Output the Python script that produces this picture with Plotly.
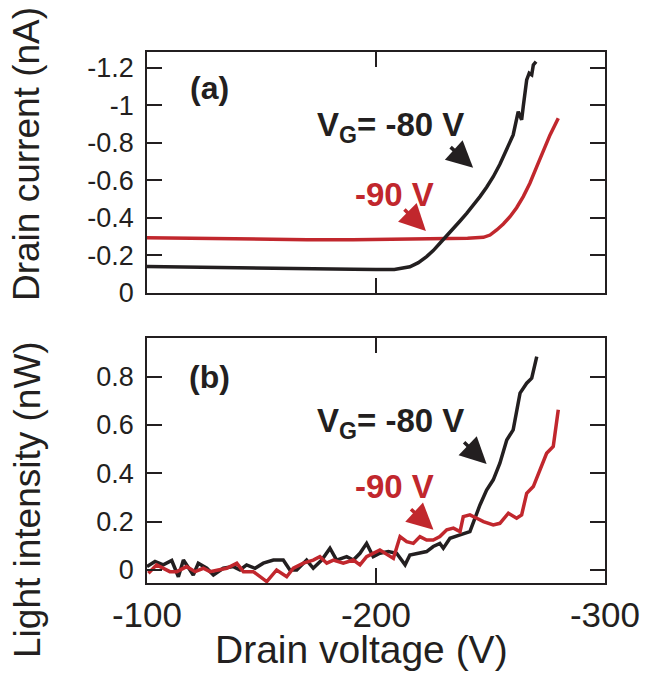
import plotly.graph_objects as go

# ---------------- data ----------------
# (a) Drain current vs drain voltage
v_cur_80 = [-100, -110, -120, -130, -140, -150, -160, -170, -180, -190, -200, -208, -214.8, -218.5,
            -222.1, -225, -227.9, -230.9, -233.8, -236.7, -239.6, -242.5, -245.4, -248.3, -251.2,
            -254.1, -257.1, -259.9, -262.1, -263.6, -264.3, -265.8, -266.9, -268, -268.7, -269.9]
i_cur_80 = [-0.141, -0.139, -0.136, -0.134, -0.132, -0.130, -0.129, -0.128, -0.127, -0.126, -0.125,
            -0.125, -0.140, -0.162, -0.194, -0.226, -0.265, -0.304, -0.345, -0.384, -0.425, -0.468,
            -0.514, -0.564, -0.620, -0.686, -0.763, -0.843, -0.967, -0.923, -0.994, -1.136, -1.172,
            -1.163, -1.216, -1.234]

v_cur_90 = [-100, -115, -130, -150, -170, -190, -210, -230, -240, -246.9, -249.8, -252.7, -255.6,
            -258.5, -261.4, -264.3, -267.2, -270.2, -273.1, -276, -279.6]
i_cur_90 = [-0.295, -0.292, -0.288, -0.285, -0.284, -0.284, -0.286, -0.290, -0.292, -0.297, -0.309,
            -0.336, -0.368, -0.407, -0.455, -0.514, -0.585, -0.674, -0.763, -0.843, -0.932]

# (b) Light intensity vs drain voltage
v_lig_80 = [-100, -103.5, -107.1, -110.8, -113.7, -115.9, -120.2, -122.4, -126.1, -129, -133.3, -137.7,
            -140.6, -143.5, -147.2, -150.8, -155.2, -159.5, -162.4, -165.4, -169.7, -172.6, -176.3,
            -179.9, -182.8, -187.2, -190.1, -193, -195.9, -198.8, -201.7, -205.4, -209, -212.7,
            -214.8, -217.8, -222.1, -225, -227.9, -229.4, -232.3, -236.7, -241, -245.4, -248.3,
            -251.2, -254.1, -257.1, -259.9, -262.9, -265.8, -268, -270.2]
l_lig_80 = [0.014, 0.035, 0.021, 0.039, -0.028, 0.041, -0.021, 0.028, 0.007, -0.021, 0.007, 0.014,
            0.0, 0.021, 0.007, 0.028, 0.041, 0.041, 0.0, 0.0, 0.041, 0.007, 0.041, 0.090, 0.041,
            0.055, 0.041, 0.069, 0.110, 0.055, 0.069, 0.076, 0.069, 0.021, 0.062, 0.069, 0.076,
            0.097, 0.110, 0.090, 0.131, 0.145, 0.159, 0.269, 0.331, 0.373, 0.442, 0.538, 0.580,
            0.732, 0.773, 0.794, 0.883]

v_lig_90 = [-100.6, -104.2, -110, -113, -117.3, -121, -124.6, -127.5, -131.1, -134.8, -139.2, -142.1,
            -146.4, -152.3, -156.6, -161, -163.9, -168.3, -172.6, -175.5, -178.5, -181.4, -185.7,
            -190.1, -193, -195.9, -201.7, -207.6, -210.5, -213.4, -216.3, -219.2, -222.1, -225,
            -227.9, -230.9, -233.8, -236.7, -238.1, -241, -244, -246.9, -251.2, -254.1, -257.8,
            -261.4, -263.6, -265.8, -268.7, -271.6, -274.5, -277.4, -279.6]
l_lig_90 = [-0.014, 0.021, -0.007, -0.007, 0.014, -0.007, 0.007, -0.007, 0.0, 0.007, 0.028, -0.007,
            -0.007, -0.048, 0.0, -0.028, 0.007, 0.028, 0.041, 0.055, 0.028, 0.041, 0.028, 0.041,
            0.021, 0.055, 0.083, 0.048, 0.138, 0.117, 0.110, 0.138, 0.124, 0.124, 0.138, 0.166,
            0.173, 0.159, 0.221, 0.228, 0.214, 0.200, 0.186, 0.193, 0.235, 0.214, 0.228, 0.317,
            0.345, 0.414, 0.483, 0.511, 0.663]

x_tickvals = [-100, -200, -300]
x_ticktext = ["-100", "-200", "-300"]
y1_tickvals = [-1.2, -1.0, -0.8, -0.6, -0.4, -0.2, 0]
y1_ticktext = ["-1.2", "-1", "-0.8", "-0.6", "-0.4", "-0.2", "0"]
y2_tickvals = [0, 0.2, 0.4, 0.6, 0.8]
y2_ticktext = ["0", "0.2", "0.4", "0.6", "0.8"]

BLACK = "#231f20"
RED = "#c1272d"
FONT = "Liberation Sans, Arial, Helvetica, sans-serif"

W, H = 646, 673

fig = go.Figure()
fig.add_trace(go.Scatter(x=v_cur_90, y=i_cur_90, mode="lines", line=dict(color=RED, width=3.5),
                         xaxis="x", yaxis="y", showlegend=False))
fig.add_trace(go.Scatter(x=v_cur_80, y=i_cur_80, mode="lines", line=dict(color=BLACK, width=3.5),
                         xaxis="x", yaxis="y", showlegend=False))
fig.add_trace(go.Scatter(x=v_lig_80, y=l_lig_80, mode="lines", line=dict(color=BLACK, width=3.5),
                         xaxis="x2", yaxis="y2", showlegend=False))
fig.add_trace(go.Scatter(x=v_lig_90, y=l_lig_90, mode="lines", line=dict(color=RED, width=3.5),
                         xaxis="x2", yaxis="y2", showlegend=False))

xdom = [147 / W, 605 / W]
common_axis = dict(showline=True, linecolor=BLACK, linewidth=1.5, mirror="ticks", ticks="inside",
                   ticklen=15, tickwidth=1.5, tickcolor=BLACK, showgrid=False, zeroline=False,
                   automargin=False)

fig.update_layout(
    width=W, height=H,
    margin=dict(l=0, r=0, t=0, b=0, autoexpand=False),
    paper_bgcolor="white", plot_bgcolor="white",
    font=dict(family=FONT, color=BLACK),
    xaxis=dict(domain=xdom, anchor="y", range=[-100, -300], tickvals=x_tickvals,
               ticktext=x_ticktext, showticklabels=False, **common_axis),
    yaxis=dict(domain=[1 - 293 / H, 1 - 52 / H], anchor="x", range=[0, -1.285],
               tickvals=y1_tickvals, ticktext=y1_ticktext, tickfont=dict(size=27),
               ticklabelstandoff=6, **common_axis),
    xaxis2=dict(domain=xdom, anchor="y2", range=[-100, -300], tickvals=x_tickvals,
                ticktext=x_ticktext, tickfont=dict(size=35), ticklabelstandoff=0, **common_axis),
    yaxis2=dict(domain=[1 - 583 / H, 1 - 338 / H], anchor="x2", range=[-0.054, 0.96],
                tickvals=y2_tickvals, ticktext=y2_ticktext, tickfont=dict(size=27),
                ticklabelstandoff=6, **common_axis),
)

ann = []
# axis titles
ann.append(dict(text="Drain current (nA)", xref="paper", yref="paper", x=27 / W, y=1 - 154 / H,
                textangle=-90, showarrow=False, font=dict(size=37, color=BLACK),
                xanchor="center", yanchor="middle"))
ann.append(dict(text="Light intensity (nW)", xref="paper", yref="paper", x=27 / W, y=1 - 500 / H,
                textangle=-90, showarrow=False, font=dict(size=37, color=BLACK),
                xanchor="center", yanchor="middle"))
ann.append(dict(text="Drain voltage (V)", xref="paper", yref="paper", x=361.5 / W, y=1 - 649 / H,
                showarrow=False, font=dict(size=39, color=BLACK), xanchor="center", yanchor="middle"))
# panel labels
ann.append(dict(text="<b>(a)</b>", xref="x", yref="y", x=-127.5, y=-1.093, showarrow=False,
                font=dict(size=32, color=BLACK), xanchor="center", yanchor="middle"))
ann.append(dict(text="<b>(b)</b>", xref="x2", yref="y2", x=-127.5, y=0.799, showarrow=False,
                font=dict(size=32, color=BLACK), xanchor="center", yanchor="middle"))
# curve labels
ann.append(dict(text="<b>V<sub>G</sub>= -80 V</b>", xref="x", yref="y", x=-173.4, y=-0.885,
                showarrow=False, font=dict(size=33, color=BLACK), xanchor="left", yanchor="middle"))
ann.append(dict(text="<b>-90 V</b>", xref="x", yref="y", x=-190, y=-0.523,
                showarrow=False, font=dict(size=33, color=RED), xanchor="left", yanchor="middle"))
ann.append(dict(text="<b>V<sub>G</sub>= -80 V</b>", xref="x2", yref="y2", x=-173.4, y=0.609,
                showarrow=False, font=dict(size=33, color=BLACK), xanchor="left", yanchor="middle"))
ann.append(dict(text="<b>-90 V</b>", xref="x2", yref="y2", x=-190, y=0.344,
                showarrow=False, font=dict(size=33, color=RED), xanchor="left", yanchor="middle"))
# arrows
arrow_style = dict(text="", showarrow=True, arrowhead=2, arrowsize=1.5, arrowwidth=3.5)
ann.append(dict(xref="x", yref="y", x=-242.4, y=-0.668, ax=-24, ay=-22, arrowcolor=BLACK, **arrow_style))
ann.append(dict(xref="x", yref="y", x=-221.8, y=-0.331, ax=-23, ay=-23, arrowcolor=RED, **arrow_style))
ann.append(dict(xref="x2", yref="y2", x=-248.3, y=0.439, ax=-24, ay=-23, arrowcolor=BLACK, **arrow_style))
ann.append(dict(xref="x2", yref="y2", x=-225.1, y=0.166, ax=-24, ay=-22, arrowcolor=RED, **arrow_style))

fig.update_layout(annotations=ann)
fig.write_html("out.html", config={"displayModeBar": False},
               post_script="document.body.style.margin='0px';document.body.style.overflow='hidden';")
